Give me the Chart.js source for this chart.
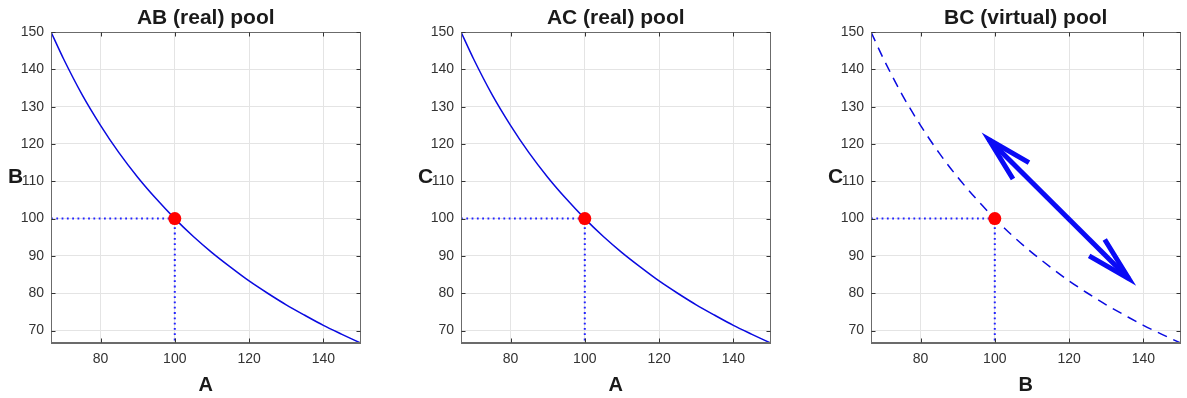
<!DOCTYPE html>
<html lang="en">
<head>
<meta charset="UTF-8">
<title>Pool curves</title>
<script src="https://cdn.jsdelivr.net/npm/chart.js"></script>
<style>
    html, body { margin: 0; background: #fff; width: 1187px; height: 398px; overflow: hidden; }
    .panel { position: absolute; top: 0; width: 367px; height: 398px; }
</style>
</head>
<body>
<div class="panel" style="left:0px"><canvas id="c0" width="367" height="398"></canvas></div>
<div class="panel" style="left:410px"><canvas id="c1" width="367" height="398"></canvas></div>
<div class="panel" style="left:820px"><canvas id="c2" width="367" height="398"></canvas></div>
<script>
// values
const curveX = [66.67, 70, 75, 80, 85, 90, 95, 100, 105, 110, 115, 120, 125, 130, 135, 140, 145, 150];
const curveY = [150, 142.9, 133.3, 125, 117.6, 111.1, 105.3, 100, 95.2, 90.9, 87.0, 83.3, 80, 76.9, 74.1, 71.4, 69.0, 66.67];
const pointX = [100];
const pointY = [100];
const guideX = [66.67, 100, 100];
const guideY = [100, 100, 66.67];
// arrow in the virtual pool panel
const arrowShaftX = [98.4, 136.1];
const arrowShaftY = [121.2, 83.9];
const arrowHeadUpX = [109.2, 98.4, 104.9];
const arrowHeadUpY = [115.0, 121.2, 110.6];
const arrowHeadDownX = [129.6, 136.1, 125.4];
const arrowHeadDownY = [94.4, 83.9, 90.0];

const xTicks = [80, 100, 120, 140];
const yTicks = [70, 80, 90, 100, 110, 120, 130, 140, 150];
const axisMin = 66.67;
const axisMax = 150;

const titles = ['AB (real) pool', 'AC (real) pool', 'BC (virtual) pool'];
const xNames = ['A', 'A', 'B'];
const yNames = ['B', 'C', 'C'];
const dashedCurve = [false, false, true];

const FONT = "'Liberation Sans', Arial, Helvetica, sans-serif";

function pts(xs, ys) {
    return xs.map((x, i) => ({ x: x, y: ys[i] }));
}

const framePlugin = {
    id: 'frame',
    afterDraw(chart, args, opts) {
        const ctx = chart.ctx;
        const a = chart.chartArea;
        const sx = chart.scales.x, sy = chart.scales.y;
        ctx.save();
        ctx.strokeStyle = '#6b6b6b';
        ctx.lineWidth = 1;
        const l = Math.round(a.left) + 0.5, r = Math.round(a.right) - 0.5;
        const t = Math.round(a.top) + 0.5, b = Math.round(a.bottom) - 0.5;
        ctx.strokeRect(l, t, r - l, b - t);
        ctx.strokeStyle = '#333';
        ctx.beginPath();
        xTicks.forEach(v => {
            const p = Math.round(sx.getPixelForValue(v)) + 0.5;
            ctx.moveTo(p, b); ctx.lineTo(p, b - 4);
            ctx.moveTo(p, t); ctx.lineTo(p, t + 4);
        });
        yTicks.forEach(v => {
            const p = Math.round(sy.getPixelForValue(v)) + 0.5;
            ctx.moveTo(l, p); ctx.lineTo(l + 4, p);
            ctx.moveTo(r, p); ctx.lineTo(r - 4, p);
        });
        ctx.stroke();

        const cx = (a.left + a.right) / 2;
        ctx.fillStyle = '#1a1a1a';
        ctx.textAlign = 'center';
        ctx.textBaseline = 'alphabetic';
        ctx.font = 'bold 21px ' + FONT;
        ctx.fillText(opts.title, cx, 24);
        ctx.font = 'bold 20px ' + FONT;
        ctx.fillText(opts.xName, cx, 391);
        ctx.font = 'bold 21px ' + FONT;
        ctx.fillText(opts.yName, 15.5, 182.5);
        ctx.restore();
    }
};

function makeChart(i) {
    const datasets = [
        {
            data: pts(pointX, pointY),
            showLine: false,
            pointRadius: 6.5,
            pointBackgroundColor: '#ff0000',
            pointBorderWidth: 0
        },
        {
            data: pts(guideX, guideY),
            showLine: true,
            borderColor: '#2323ff',
            borderWidth: 2,
            borderDash: [1.8, 3.5],
            pointRadius: 0
        },
        {
            data: pts(curveX, curveY),
            showLine: true,
            borderColor: '#0a0ae0',
            borderWidth: 1.5,
            borderDash: dashedCurve[i] ? [10, 7] : [],
            cubicInterpolationMode: 'monotone',
            pointRadius: 0
        }
    ];
    if (dashedCurve[i]) {
        [[arrowShaftX, arrowShaftY], [arrowHeadUpX, arrowHeadUpY], [arrowHeadDownX, arrowHeadDownY]].forEach(([xs, ys]) => {
            datasets.unshift({
                data: pts(xs, ys),
                showLine: true,
                borderColor: '#0a0af5',
                borderWidth: 5,
                borderCapStyle: 'butt',
                borderJoinStyle: 'miter',
                pointRadius: 0
            });
        });
    }

    new Chart(document.getElementById('c' + i), {
        type: 'scatter',
        data: { datasets: datasets },
        options: {
            responsive: false,
            animation: false,
            events: [],
            layout: { padding: { top: 32, right: 4.5, bottom: 0, left: 0 } },
            plugins: {
                legend: { display: false },
                tooltip: { enabled: false },
                frame: { title: titles[i], xName: xNames[i], yName: yNames[i] }
            },
            scales: {
                x: {
                    type: 'linear',
                    min: axisMin,
                    max: axisMax,
                    afterBuildTicks: s => { s.ticks = xTicks.map(v => ({ value: v })); },
                    afterFit: s => { s.height = 55; },
                    grid: { color: '#e4e4e4', drawTicks: false },
                    border: { color: '#6b6b6b' },
                    ticks: { padding: 8, color: '#333', autoSkip: false, maxRotation: 0, font: { size: 14, family: FONT } }
                },
                y: {
                    type: 'linear',
                    min: axisMin,
                    max: axisMax,
                    afterBuildTicks: s => { s.ticks = yTicks.map(v => ({ value: v })); },
                    afterFit: s => { s.width = 51; },
                    grid: { color: '#e4e4e4', drawTicks: false },
                    border: { color: '#6b6b6b' },
                    ticks: { padding: 7, color: '#333', autoSkip: false, font: { size: 14, family: FONT } }
                }
            }
        },
        plugins: [framePlugin]
    });
}

[0, 1, 2].forEach(makeChart);
</script>
</body>
</html>
